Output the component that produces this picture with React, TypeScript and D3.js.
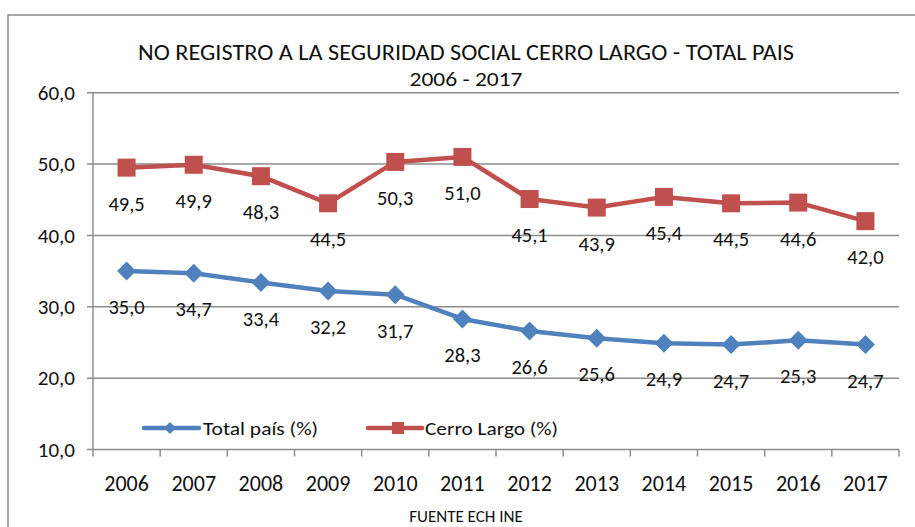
import * as d3 from "d3";

const years = ["2006", "2007", "2008", "2009", "2010", "2011", "2012", "2013", "2014", "2015", "2016", "2017"];
const totalPais = [35.0, 34.7, 33.4, 32.2, 31.7, 28.3, 26.6, 25.6, 24.9, 24.7, 25.3, 24.7];
const cerroLargo = [49.5, 49.9, 48.3, 44.5, 50.3, 51.0, 45.1, 43.9, 45.4, 44.5, 44.6, 42.0];
const yTicks = [10, 20, 30, 40, 50, 60];

const W = 915;
const H = 527;
const left = 93;
const right = 899;
const top = 92.7;
const bottom = 449.5;

const BLUE = "#4F81BD";
const RED = "#C0504D";
const GRID = "#8c8c8c";
const FONT = "Carlito, 'Open Sans', sans-serif";

const fmt = (v: number) => v.toFixed(1).replace(".", ",");

export default function App() {
  const x = d3.scaleBand<string>().domain(years).range([left, right]);
  const y = d3.scaleLinear().domain([10, 60]).range([bottom, top]);
  const cx = (yr: string) => (x(yr) as number) + x.bandwidth() / 2;

  const line = d3
    .line<number>()
    .x((_, i) => cx(years[i]))
    .y((d) => y(d));

  const diamond = (px: number, py: number, r: number) =>
    `M${px},${py - r}L${px + r},${py}L${px},${py + r}L${px - r},${py}Z`;

  return (
    <svg width={W} height={H} style={{ position: "absolute", left: 0, top: 0 }} fontFamily={FONT} fill="#111">
      <rect x={8} y={15} width={W + 20} height={H + 20} fill="white" stroke={GRID} strokeWidth={1.5} />

      <text x={466} y={60} textAnchor="middle" fontSize={21.5} textLength={656} lengthAdjust="spacingAndGlyphs">
        NO REGISTRO A LA SEGURIDAD SOCIAL CERRO LARGO - TOTAL PAIS
      </text>
      <text x={466} y={86} textAnchor="middle" fontSize={21} textLength={113} lengthAdjust="spacingAndGlyphs">
        2006 - 2017
      </text>

      {/* gridlines + y axis */}
      {yTicks.map((t) => (
        <g key={t}>
          <line x1={left - 6} x2={right} y1={y(t)} y2={y(t)} stroke={GRID} strokeWidth={1.5} />
          <text x={75} y={y(t)} dy="0.35em" textAnchor="end" fontSize={21}>
            {fmt(t)}
          </text>
        </g>
      ))}
      <line x1={left} x2={left} y1={top} y2={bottom} stroke={GRID} strokeWidth={1.5} />

      {/* x axis ticks and labels */}
      {years.map((yr) => (
        <line
          key={"t" + yr}
          x1={x(yr) as number}
          x2={x(yr) as number}
          y1={bottom}
          y2={bottom + 7}
          stroke={GRID}
          strokeWidth={1.5}
        />
      ))}
      <line x1={right} x2={right} y1={bottom} y2={bottom + 7} stroke={GRID} strokeWidth={1.5} />
      {years.map((yr) => (
        <text key={"l" + yr} x={cx(yr)} y={491} textAnchor="middle" fontSize={22}>
          {yr}
        </text>
      ))}

      {/* series */}
      <path d={line(cerroLargo) as string} fill="none" stroke={RED} strokeWidth={4.5} strokeLinejoin="round" />
      {cerroLargo.map((v, i) => (
        <rect key={"r" + i} x={cx(years[i]) - 9} y={y(v) - 9} width={18} height={18} fill={RED} />
      ))}
      <path d={line(totalPais) as string} fill="none" stroke={BLUE} strokeWidth={4.5} strokeLinejoin="round" />
      {totalPais.map((v, i) => (
        <path key={"d" + i} d={diamond(cx(years[i]), y(v), 9.5)} fill={BLUE} />
      ))}

      {/* data labels */}
      {cerroLargo.map((v, i) => (
        <text key={"cl" + i} x={cx(years[i])} y={y(v) + 36} dy="0.35em" textAnchor="middle" fontSize={20.5}>
          {fmt(v)}
        </text>
      ))}
      {totalPais.map((v, i) => (
        <text key={"tl" + i} x={cx(years[i])} y={y(v) + 36} dy="0.35em" textAnchor="middle" fontSize={20.5}>
          {fmt(v)}
        </text>
      ))}

      {/* legend */}
      <line x1={144} x2={199} y1={428} y2={428} stroke={BLUE} strokeWidth={4.5} strokeLinecap="round" />
      <path d={diamond(170, 428, 6)} fill={BLUE} />
      <text x={203} y={428} dy="0.35em" fontSize={19} textLength={115} lengthAdjust="spacingAndGlyphs">
        Total país (%)
      </text>
      <line x1={368} x2={422} y1={428} y2={428} stroke={RED} strokeWidth={4.5} strokeLinecap="round" />
      <rect x={392} y={422} width={12} height={12} fill={RED} />
      <text x={425} y={428} dy="0.35em" fontSize={19} textLength={133} lengthAdjust="spacingAndGlyphs">
        Cerro Largo (%)
      </text>

      <text x={466} y={522} textAnchor="middle" fontSize={17}>
        FUENTE ECH INE
      </text>
    </svg>
  );
}
